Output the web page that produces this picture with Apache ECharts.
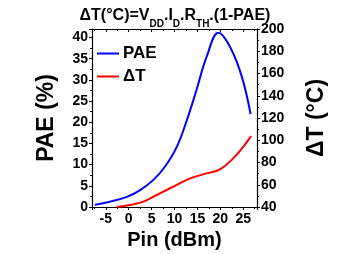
<!DOCTYPE html>
<html>
<head>
<meta charset="utf-8">
<script src="https://cdn.jsdelivr.net/npm/echarts@6/dist/echarts.min.js"></script>
<style>
  html, body { margin: 0; padding: 0; background: #fff; }
  #chart { width: 357px; height: 254px; }
</style>
</head>
<body>
<div id="chart"></div>
<script>
// PAE curve (left axis, %)
var pinPae = [-7.4, -4.1, -0.4, 2.5, 5.4, 7.9, 10.5, 12.7, 14.8, 17.0, 19.6, 22.1, 24.7, 26.6];
var paeValues = [0.5, 1.25, 2.4, 4.0, 6.4, 9.5, 14.2, 20.5, 27.6, 35.4, 41.1, 37.8, 30.7, 21.9];

// delta T curve (right axis, degC)
var pinDt = [-2.6, 0.3, 3.2, 6.1, 9.7, 13.4, 17.0, 19.9, 22.8, 25.0, 26.7];
var dtValues = [40, 41.8, 44.8, 50.8, 58.2, 65.7, 70.2, 73.8, 83.7, 94.1, 103.7];

var seriesNames = ['PAE', 'ΔT'];

function pairs(xs, ys) {
  var out = [];
  for (var i = 0; i < xs.length; i++) {
    out.push([xs[i], ys[i]]);
  }
  return out;
}

var font = 'Liberation Sans, Arial, sans-serif';
var black = '#000';

// shared look of the frame axes
function frameLine() {
  return { show: true, onZero: false, lineStyle: { color: black, width: 1.2 } };
}
function ticks(inside) {
  return { show: true, inside: inside, length: 3, lineStyle: { color: black } };
}
var minor = { show: true, splitNumber: 2, length: 2, lineStyle: { color: black } };

var chart = echarts.init(document.getElementById('chart'));

var option = {
  animation: false,
  title: {
    text: '{m|ΔT(°C)=V}{s|DD}{m|.I}{s|D}{m|.R}{s|TH}{m|.(1-PAE)}',
    left: 170,
    top: 1,
    textAlign: 'center',
    textStyle: {
      rich: {
        m: { fontFamily: font, fontWeight: 'bold', fontSize: 16, color: black, lineHeight: 20 },
        s: { fontFamily: font, fontWeight: 'bold', fontSize: 10, color: black, verticalAlign: 'bottom', lineHeight: 10, padding: [0, 0, -3, 0] }
      }
    }
  },
  legend: {
    orient: 'vertical',
    left: 92,
    top: 40,
    icon: 'rect',
    itemWidth: 22,
    itemHeight: 2,
    itemGap: 6,
    data: seriesNames,
    textStyle: { fontFamily: font, fontWeight: 'bold', fontSize: 17, color: black, padding: [0, 0, 0, -1] }
  },
  grid: {
    left: 92, right: 100, top: 29, bottom: 47,
    outerBoundsMode: 'none',
    containLabel: false
  },
  xAxis: [
    {
      type: 'value',
      min: -8,
      max: 28,
      splitNumber: 8,
      minInterval: 5,
      maxInterval: 5,
      name: 'Pin (dBm)',
      nameLocation: 'middle',
      nameGap: 22,
      nameTextStyle: { fontFamily: font, fontWeight: 'bold', fontSize: 20, color: black },
      axisLine: frameLine(),
      axisTick: ticks(false),
      minorTick: minor,
      axisLabel: { showMinLabel: false, showMaxLabel: false, margin: 5, fontFamily: font, fontWeight: 'bold', fontSize: 14, color: black },
      splitLine: { show: false }
    },
    {
      type: 'value',
      position: 'top',
      min: -8,
      max: 28,
      splitNumber: 8,
      minInterval: 5,
      maxInterval: 5,
      axisLine: frameLine(),
      axisTick: ticks(true),
      minorTick: minor,
      axisLabel: { show: false },
      splitLine: { show: false }
    }
  ],
  yAxis: [
    {
      type: 'value',
      min: 0,
      max: 42,
      interval: 5,
      name: 'PAE (%)',
      nameLocation: 'middle',
      nameRotate: 90,
      nameGap: 34,
      nameTextStyle: { fontFamily: font, fontWeight: 'bold', fontSize: 23, color: black },
      axisLine: frameLine(),
      axisTick: ticks(false),
      minorTick: minor,
      axisLabel: { showMaxLabel: false, margin: 4, fontFamily: font, fontWeight: 'bold', fontSize: 14, color: black },
      splitLine: { show: false }
    },
    {
      type: 'value',
      position: 'right',
      min: 40,
      max: 200,
      interval: 20,
      name: 'ΔT (°C)',
      nameLocation: 'middle',
      nameRotate: 90,
      nameGap: 48,
      nameTextStyle: { fontFamily: font, fontWeight: 'bold', fontSize: 23, color: black },
      axisLine: frameLine(),
      axisTick: ticks(false),
      minorTick: minor,
      axisLabel: { margin: 4, fontFamily: font, fontWeight: 'bold', fontSize: 14, color: black },
      splitLine: { show: false }
    }
  ],
  series: [
    {
      name: seriesNames[0],
      type: 'line',
      xAxisIndex: 0,
      yAxisIndex: 0,
      data: pairs(pinPae, paeValues),
      smooth: 0.4,
      symbol: 'none',
      lineStyle: { color: '#0000ff', width: 2 },
      itemStyle: { color: '#0000ff' }
    },
    {
      name: seriesNames[1],
      type: 'line',
      // top and bottom x axes share the same range
      xAxisIndex: 1,
      yAxisIndex: 1,
      data: pairs(pinDt, dtValues),
      smooth: 0.4,
      symbol: 'none',
      lineStyle: { color: '#ff0000', width: 2 },
      itemStyle: { color: '#ff0000' }
    }
  ]
};

chart.setOption(option);

window.onresize = function () {
  chart.resize();
};
</script>
</body>
</html>
